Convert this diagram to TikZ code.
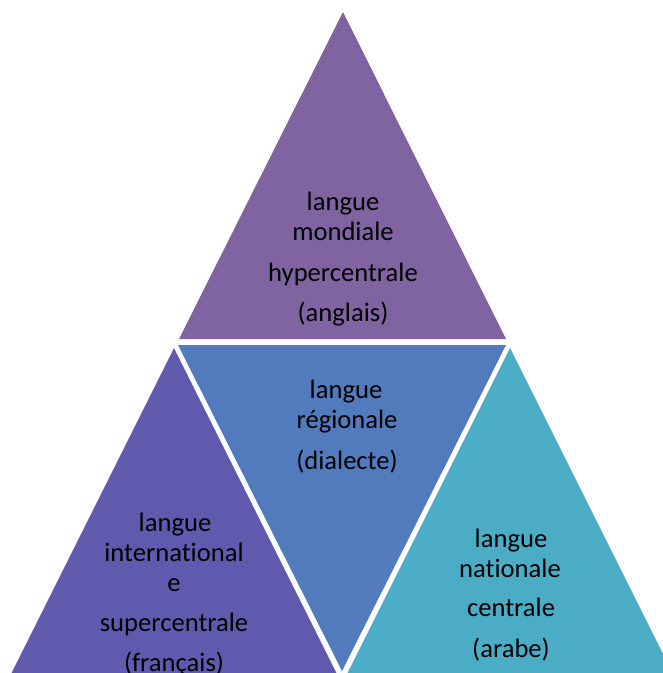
\documentclass[tikz,border=0pt]{standalone}
\usepackage{fontspec}
\setmainfont{Carlito}[Ligatures=NoCommon]
\begin{document}
\begin{tikzpicture}[x=1pt,y=-1pt,
  lbl/.style={anchor=base,inner sep=0pt,font=\fontsize{26.6}{30}\selectfont,text=black}]
\definecolor{cTop}{HTML}{8064A2}
\definecolor{cMid}{HTML}{527BBD}
\definecolor{cLeft}{HTML}{5F5AAD}
\definecolor{cRight}{HTML}{4BACC6}
\useasboundingbox (0,0) rectangle (663,673);
\clip (0,0) rectangle (663,673);
\fill[white] (0,0) rectangle (663,673);
% four triangles of the pyramid
\fill[cTop]   (343,12)  -- (506,339) -- (179,339) -- cycle;
\fill[cMid]   (178,345) -- (506,345) -- (342,671) -- cycle;
\fill[cLeft]  (174,348) -- (337,674) -- (11,674) -- cycle;
\fill[cRight] (510,348) -- (673,674) -- (347,674) -- cycle;
% top
\node[lbl] (t1) at (343,210) {langue};
\node[lbl] (t2) at (343,240) {mondiale};
\node[lbl] (t3) at (343,281) {hypercentrale};
\node[lbl] (t4) at (343,321) {(anglais)};
% middle
\node[lbl] (m1) at (346,398) {langue};
\node[lbl] (m2) at (347,428) {régionale};
\node[lbl] (m3) at (347,469) {(dialecte)};
% left
\node[lbl] (l1) at (175,531) {langue};
\node[lbl] (l2) at (174,561) {international};
\node[lbl] (l3) at (174,591) {e};
\node[lbl] (l4) at (174,631) {supercentrale};
\node[lbl] (l5) at (174,671) {(français)};
% right
\node[lbl] (r1) at (511,547) {langue};
\node[lbl] (r2) at (510,577) {nationale};
\node[lbl] (r3) at (511,616) {centrale};
\node[lbl] (r4) at (511,657) {(arabe)};
\end{tikzpicture}
\end{document}
